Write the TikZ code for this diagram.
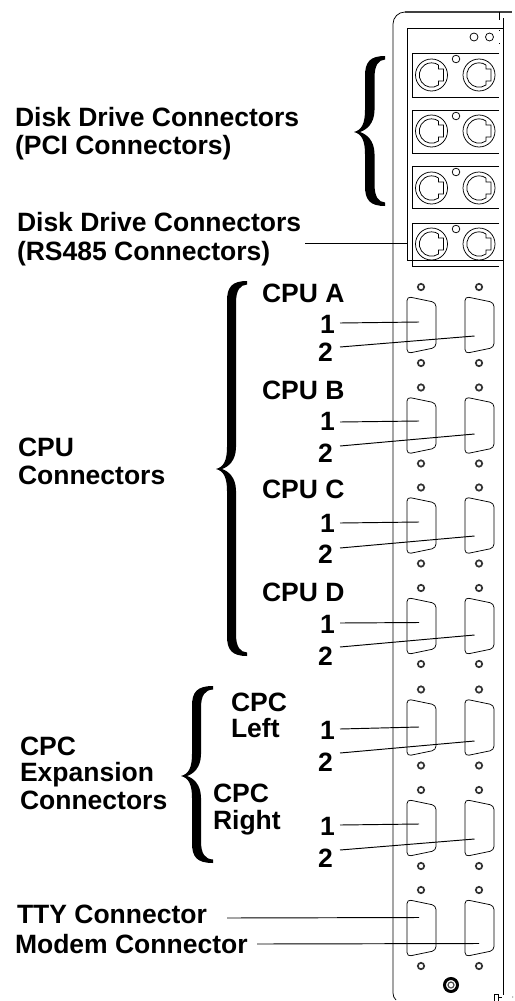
\documentclass[tikz,border=0pt]{standalone}
\usepackage{fontspec}
\setmainfont{Liberation Sans}
\newcommand{\bracefill}[7]{% xtip ytip xL xR xend ytop ybot
  \fill[black] (#5,#6) .. controls ({#3+5},{#6}) and (#3,{#6+6}) .. (#3,{#6+20})
    -- (#3,{#2-22}) .. controls (#3,{#2-9}) and ({#3-3},{#2-2}) .. (#1,#2)
    .. controls ({#3-3},{#2+2}) and (#3,{#2+9}) .. (#3,{#2+22})
    -- (#3,{#7-20}) .. controls (#3,{#7-6}) and ({#3+5},{#7}) .. (#5,#7)
    -- (#5,{#7-3.5}) .. controls ({#4+4},{#7-4}) and (#4,{#7-9}) .. (#4,{#7-22})
    -- (#4,{#2+22}) .. controls (#4,{#2+8}) and ({#3+1},{#2+2}) .. ({#1+6},#2)
    .. controls ({#3+1},{#2-2}) and (#4,{#2-8}) .. (#4,{#2-22})
    -- (#4,{#6+22}) .. controls (#4,{#6+9}) and ({#4+4},{#6+4}) .. (#5,{#6+3.5}) -- cycle;
}
\newcommand{\diskconn}[2]{%
  \draw[thinline] (#1,#2) circle (16);
  \draw[thinline] ({#1+7},{#2-10}) -- ({#1+7},{#2-6}) -- ({#1+12},{#2-6}) -- ({#1+12},{#2+6}) -- ({#1+7},{#2+6}) -- ({#1+7},{#2+10})
    arc[start angle=55,end angle=305,radius=12.2];
}
\newcommand{\dbconn}[2]{%
  \draw[thinline,rounded corners=4] ({#1-14.5},#2) -- ({#1-14.5},{#2-28.5}) -- ({#1+14.5},{#2-22.5}) -- ({#1+14.5},{#2+22.5}) -- ({#1-14.5},{#2+28.5}) -- cycle;
}
\newcommand{\screw}[2]{%
  \draw[screwline] (#1,#2) circle (3.2);
}
\tikzset{
  thinline/.style={draw=black,line width=0.75pt},
  leader/.style={draw=black,line width=0.95pt},
  screwline/.style={draw=black!80,line width=1.7pt},
  lab/.style={anchor=base west,inner sep=0pt,outer sep=0pt,font=\fontsize{26.5}{28}\selectfont\bfseries},
}
\begin{document}
\begin{tikzpicture}[x=1pt,y=-1pt]
\useasboundingbox (0,0) rectangle (514,1001);
% panel
\draw[thinline] (396,1000) .. controls (394,998) and (393,996) .. (393,993) -- (393,24) arc[start angle=180,end angle=270,radius=12] -- (405,12);
\draw[draw=black!75,line width=1.2pt] (405,12) -- (512,12);
\draw[thinline] (499,12) -- (499,20);
\draw[thinline] (503,18) -- (503,995);
\draw[thinline] (407,260) -- (407,28) -- (503,28);
\draw[thinline] (407,260) -- (503,260);
\draw[thinline] (474,37) circle (4);
\draw[thinline] (489.5,37) circle (4);
\draw[thinline] (499,30) -- (499,31) (499,43) -- (499,44);
% disk modules
\foreach \t/\b/\c/\l in {53/97/75/59,110/153/131/116,166/208/188/172,223/266/244/229}{
  \draw[thinline] (499,\t) -- (412,\t) -- (412,\b) -- (499,\b);
  \draw[thinline] (456,\l) circle (3.8);
  \diskconn{431.5}{\c}
  \diskconn{479}{\c}
}
% DB connectors and screws
\foreach \c in {325,425.5,525.5,626,727.5,828,928}{
  \dbconn{421.5}{\c}
  \dbconn{479.5}{\c}
  \screw{421}{\c-38}
  \screw{479}{\c-38}
  \screw{421}{\c+38}
  \screw{479}{\c+38}
}
% bolt and bottom detail
\draw[draw=black,line width=3pt] (451,985) circle (6.5);
\draw[draw=black!70,line width=1.2pt] (451,985) circle (3);
\draw[thinline] (494,1001) -- (494,994) -- (498,994) -- (498,1001);
\draw[thinline] (498,997) -- (502,997);
\fill[black!60] (512.7,997) circle (0.6);
% braces
\bracefill{354}{132}{365}{374.5}{385}{56}{206}
\bracefill{216}{469}{227}{236}{247}{281}{656}
\bracefill{181}{776}{192}{201}{213}{686}{863}
% labels
\node[lab] (dd1) at (15,126) {Disk Drive Connectors};
\node[lab] (dd2) at (15,154) {(PCI Connectors)};
\node[lab] (rs1) at (17,231) {Disk Drive Connectors};
\node[lab] (rs2) at (17,260) {(RS485 Connectors)};
\node[lab] (cpu1) at (18,456) {CPU};
\node[lab] (cpu2) at (18,484) {Connectors};
\node[lab] (exp1) at (20,755) {CPC};
\node[lab] (exp2) at (20,781) {Expansion};
\node[lab] (exp3) at (20,809) {Connectors};
\node[lab] (cpua) at (262,302) {CPU A};
\node[lab] (cpub) at (262,399) {CPU B};
\node[lab] (cpuc) at (262,498) {CPU C};
\node[lab] (cpud) at (262,601) {CPU D};
\node[lab] (cpcl1) at (231,711) {CPC};
\node[lab] (cpcl2) at (231,737) {Left};
\node[lab] (cpcr1) at (213,802) {CPC};
\node[lab] (cpcr2) at (213,829) {Right};
\node[lab] (tty) at (17,923) {TTY Connector};
\node[lab] (modem) at (15,953) {Modem Connector};
\foreach \n/\one/\two in {a/333/361,b/430/462,c/532/563,d/633/665,e/739/771,f/835/867}{
  \node[lab] (n1\n) at (320,\one) {1};
  \node[lab] (n2\n) at (318,\two) {2};
}
% leaders
\foreach \n/\sa/\ea/\sb/\eb in {a/323/322/347/336,b/422/421/446/434,c/523/522/548/536,d/623/622.5/647/635,e/729/727/753/741,f/825/824/850/839}{
  \coordinate (s1\n) at (340,\sa);
  \coordinate (e1\n) at (419,\ea);
  \coordinate (s2\n) at (340,\sb);
  \coordinate (e2\n) at (474.5,\eb);
  \draw[leader] (s1\n) -- (e1\n);
  \draw[leader] (s2\n) -- (e2\n);
}
\coordinate (rsS) at (305,243);
\coordinate (rsE) at (407,243);
\draw[leader] (rsS) -- (rsE);
\coordinate (ttyS) at (227,918);
\coordinate (ttyE) at (419,917.5);
\draw[leader] (ttyS) -- (ttyE);
\coordinate (modS) at (257,944);
\coordinate (modE) at (479,943.5);
\draw[leader] (modS) -- (modE);
\end{tikzpicture}
\end{document}
